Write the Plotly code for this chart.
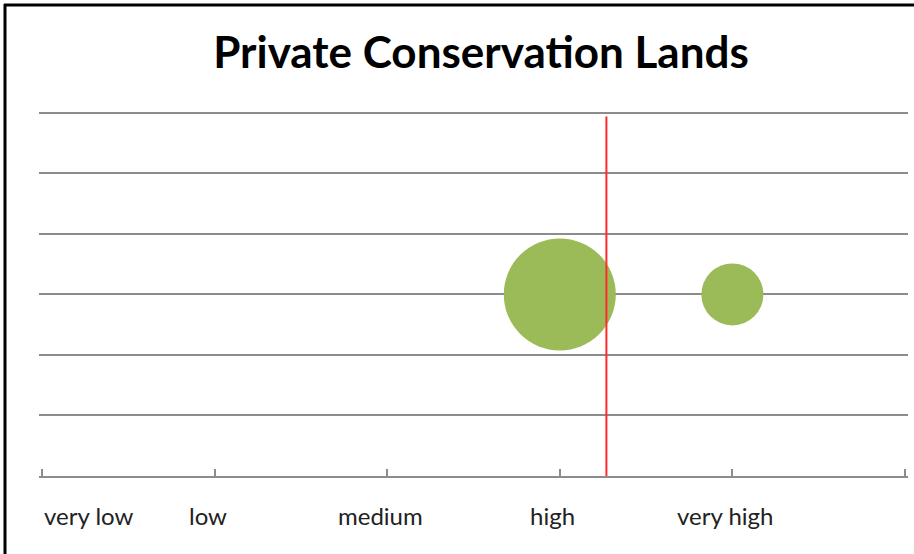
import plotly.graph_objects as go

# Data
categories = ["very low", "low", "medium", "high", "very high"]
bubble_x = [3, 4]          # positions on the category scale (0 = very low ... 4 = very high)
bubble_y = [3, 3]
bubble_size = [3.26, 1.0]  # relative bubble areas
threshold_x = 3.27
threshold_y = [0, 5.94]

W, H = 914, 554
L, R, T, B = 39, 6, 111, 78
max_diam = 112

fig = go.Figure()

fig.add_trace(go.Scatter(
    x=bubble_x, y=bubble_y, mode="markers",
    marker=dict(size=bubble_size, sizemode="area",
                sizeref=2 * max(bubble_size) / max_diam**2,
                color="#9BBB59", line=dict(width=0), opacity=1),
    hoverinfo="skip", showlegend=False,
))

fig.add_trace(go.Scatter(
    x=[threshold_x, threshold_x], y=threshold_y, mode="lines",
    line=dict(color="#FF2A2A", width=2),
    hoverinfo="skip", showlegend=False,
))

# category labels
for i, c in enumerate(categories):
    if i == 0:
        fig.add_annotation(x=i, y=0, xref="x", yref="y", text=c, showarrow=False,
                           xanchor="left", yanchor="middle", yshift=-39, xshift=0,
                           font=dict(family="Lato", size=24, color="#222222"))
    else:
        fig.add_annotation(x=i, y=0, xref="x", yref="y", text=c, showarrow=False,
                           xanchor="center", yanchor="middle", yshift=-39, xshift=-7,
                           font=dict(family="Lato", size=24, color="#222222"))

pw = W - L - R
ph = H - T - B
def px2paper_x(px):
    return (px - L) / pw
def px2paper_y(py):
    return (H - B - py) / ph

# border (left and top)
fig.add_shape(type="line", xref="paper", yref="paper",
              x0=px2paper_x(5), x1=px2paper_x(5), y0=px2paper_y(4), y1=px2paper_y(556),
              line=dict(color="black", width=3))
fig.add_shape(type="line", xref="paper", yref="paper",
              x0=px2paper_x(4), x1=px2paper_x(916), y0=px2paper_y(5), y1=px2paper_y(5),
              line=dict(color="black", width=3))

fig.update_layout(
    width=W, height=H,
    margin=dict(l=L, r=R, t=T, b=B),
    paper_bgcolor="white", plot_bgcolor="white",
    title=dict(text="<b>Private Conservation Lands</b>", x=px2paper_x(481), xref="paper",
               xanchor="center", y=1 - 53 / H, yanchor="middle",
               font=dict(family="Lato", size=44, color="black")),
    xaxis=dict(range=[-0.0175, 5.0175], tickvals=[0, 1, 2, 3, 4, 5], showticklabels=False,
               ticks="inside", ticklen=7, tickcolor="#8C8C8C", tickwidth=1.5,
               showgrid=False, zeroline=False, showline=True, linecolor="#8C8C8C", linewidth=2),
    yaxis=dict(range=[0, 6.03], tickvals=[1, 2, 3, 4, 5, 6], showticklabels=False,
               ticks="", showgrid=True, gridcolor="#8C8C8C", gridwidth=2,
               zeroline=False, showline=False),
)

fig.write_html("out.html", config={"displayModeBar": False},
               post_script="document.body.style.margin='0';document.body.style.overflow='hidden';")
